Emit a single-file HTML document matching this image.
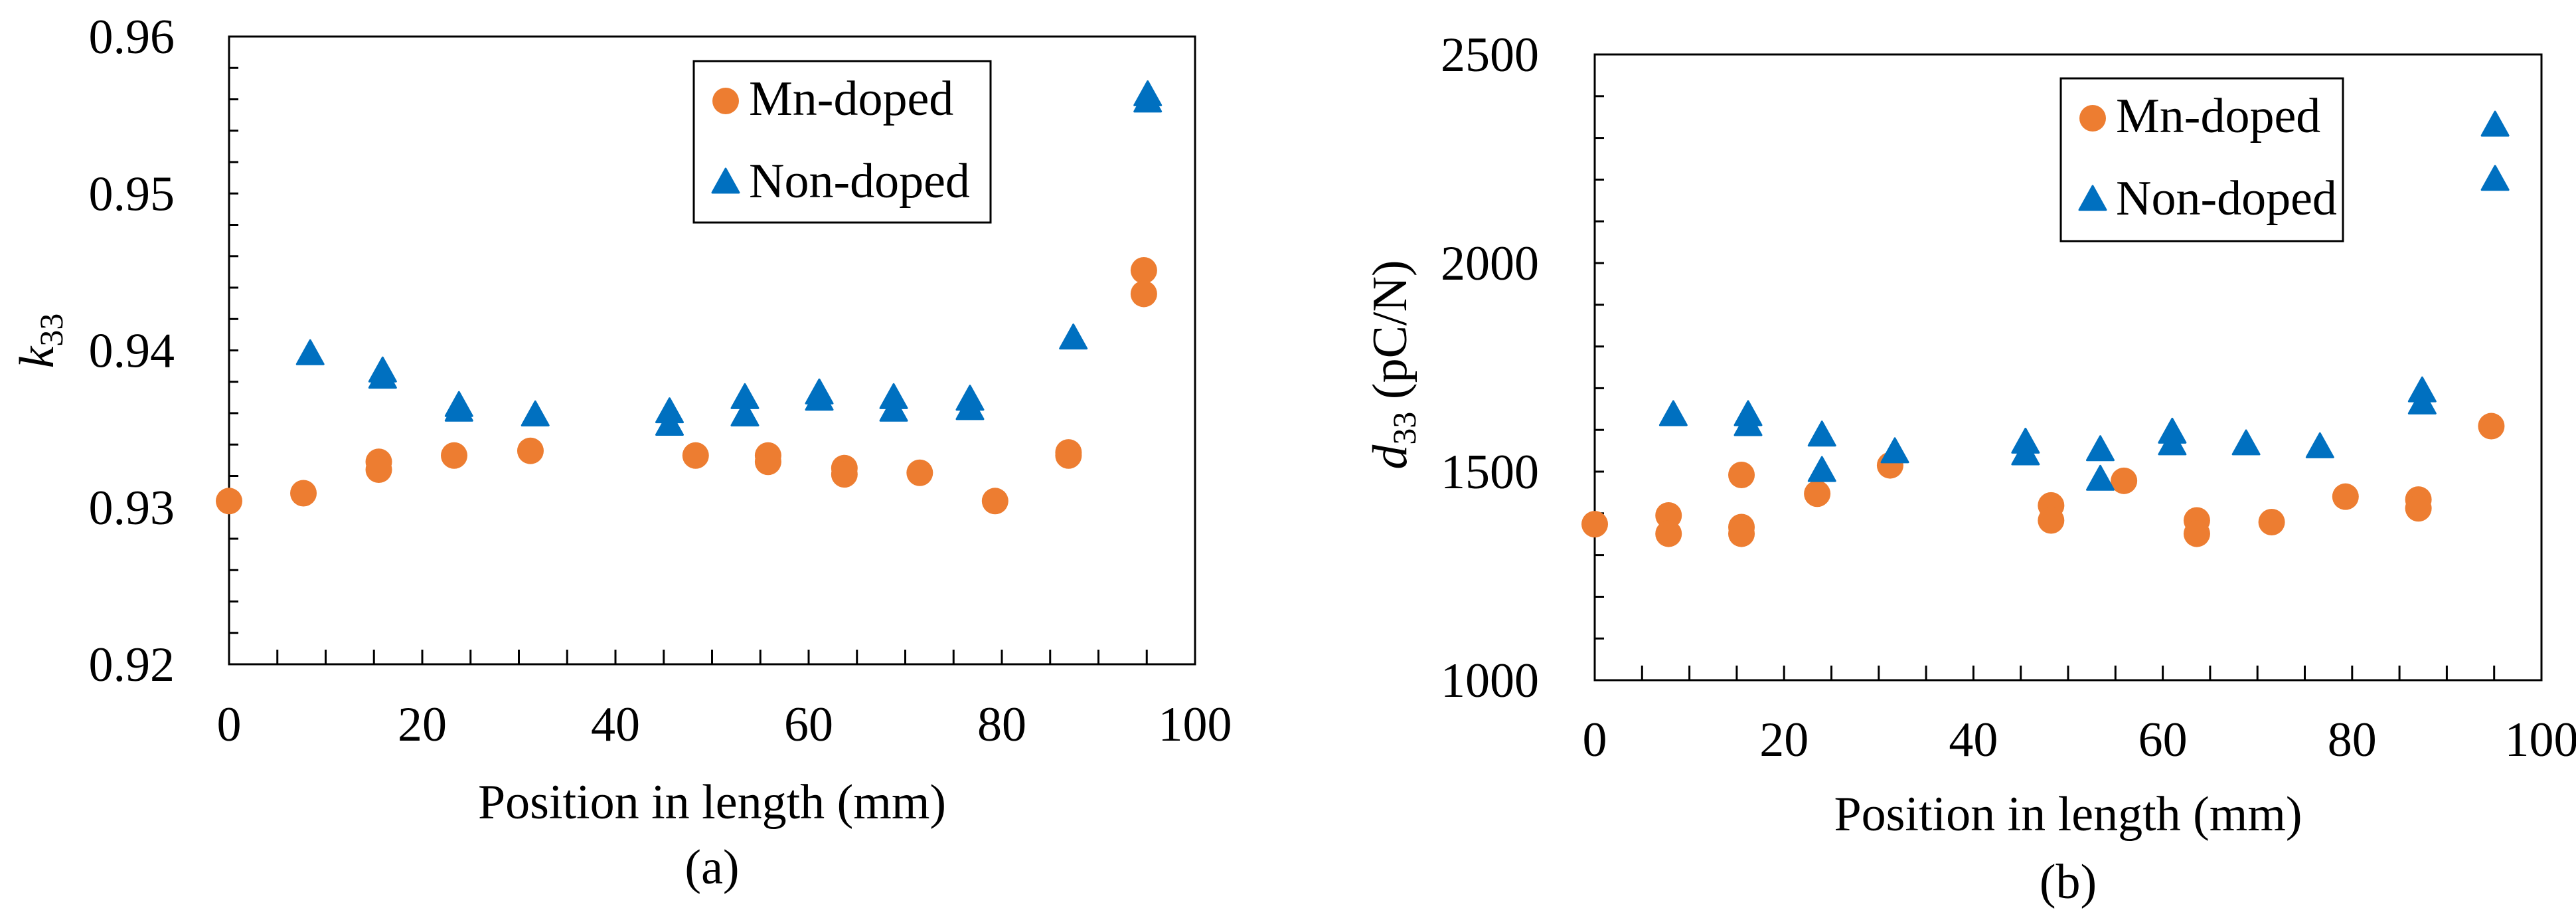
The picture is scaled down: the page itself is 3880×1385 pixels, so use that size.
<!DOCTYPE html>
<html><head><meta charset="utf-8"><style>
html,body{margin:0;padding:0;background:#fff;font-family:'Liberation Serif','Times New Roman',Times,'DejaVu Serif',serif;}
svg text{font-family:'Liberation Serif','Times New Roman',Times,'DejaVu Serif',serif;}
</style></head><body>
<svg id="fig" width="3880" height="1380" viewBox="0 0 3880 1380" xmlns="http://www.w3.org/2000/svg"></svg>
<script>
// Panel (a) data: k33
const aMnX = [0, 7.7, 15.5, 15.5, 23.3, 31.2, 48.3, 55.8, 55.8, 63.7, 63.7, 71.5, 79.3, 86.9, 86.9, 94.7, 94.7];
const aMnY = [0.9304, 0.9309, 0.9329, 0.9324, 0.9333, 0.9336, 0.9333, 0.9333, 0.9329, 0.9325, 0.9321, 0.9322, 0.9304, 0.9335, 0.9333, 0.9451, 0.9436];
const aNonX = [8.4, 15.9, 15.9, 23.8, 23.8, 31.7, 45.6, 45.6, 53.4, 53.4, 61.1, 61.1, 68.8, 68.8, 76.7, 76.7, 87.4, 95.1, 95.1];
const aNonY = [0.9398, 0.9387, 0.9383, 0.9365, 0.9362, 0.9359, 0.9361, 0.9353, 0.9370, 0.9359, 0.9373, 0.9369, 0.9370, 0.9362, 0.9369, 0.9363, 0.9408, 0.9563, 0.9559];
const aYTicks = ["0.92", "0.93", "0.94", "0.95", "0.96"];
// Panel (b) data: d33
const bMnX = [0, 7.8, 7.8, 15.5, 15.5, 15.5, 23.5, 31.2, 48.2, 48.2, 55.9, 63.6, 63.6, 71.5, 79.3, 87, 87, 94.7];
const bMnY = [1374, 1395, 1351, 1492, 1367, 1351, 1447, 1515, 1419, 1383, 1478, 1383, 1351, 1379, 1440, 1433, 1412, 1609];
const bNonX = [8.3, 16.2, 16.2, 24, 24, 31.7, 45.5, 45.5, 53.4, 53.4, 61, 61, 68.8, 76.6, 87.4, 87.4, 95.1, 95.1];
const bNonY = [1637, 1637, 1613, 1588, 1503, 1548, 1571, 1543, 1553, 1482, 1595, 1567, 1567, 1560, 1694, 1665, 2331, 2201];
const bYTicks = ["1000", "1500", "2000", "2500"];
const xTicks = ["0", "20", "40", "60", "80", "100"];

const NS = "http://www.w3.org/2000/svg";
const svg = document.getElementById('fig');
const ORANGE = "#ED7D31", BLUE = "#0070C0";
const FONT = "'Liberation Serif','Times New Roman',Times,'DejaVu Serif',serif";
function mk(tag, attrs, parent){
  const e = document.createElementNS(NS, tag);
  for (const k in attrs) e.setAttribute(k, attrs[k]);
  if (tag === 'text') { e.setAttribute('font-family', FONT); e.style.fontFamily = FONT; }
  (parent||svg).appendChild(e);
  return e;
}
function panel(cfg){
  const g = mk('g', {});
  
  
  const L=cfg.L, R=cfg.R, T=cfg.T, B=cfg.B;
  const sx = v => L + (v - 0) / 100 * (R - L);
  const sy = v => B - (v - cfg.ymin) / (cfg.ymax - cfg.ymin) * (B - T);
  const frame = mk('rect', {x:L, y:T, width:R-L, height:B-T, fill:'none', stroke:'#000', 'stroke-width':3}, g);
  
  
  const nMinor = cfg.yMinorCount;
  for (let i=1;i<nMinor;i++){
    const y = B - i*(B-T)/nMinor;
    const t = mk('line', {x1:L, x2:L+14, y1:y, y2:y, stroke:'#000', 'stroke-width':3}, g);
    
    
  }
  for (let v=5; v<100; v+=5){
    const x = sx(v);
    const t = mk('line', {x1:x, x2:x, y1:B, y2:B-22, stroke:'#000', 'stroke-width':3}, g);
    
    
  }
  cfg.yTicks.forEach(s => {
    const v = parseFloat(s);
    const t = mk('text', {x:cfg.yLabelRight, y:sy(v)+25, 'font-size':74, 'text-anchor':'end', fill:'#000'}, g);
    t.textContent = s;
    
    
  });
  xTicks.forEach(s => {
    const v = parseFloat(s);
    const t = mk('text', {x:sx(v), y:cfg.xLabelY, 'font-size':74, 'text-anchor':'middle', fill:'#000'}, g);
    t.textContent = s;
    
    
  });
  const xt = mk('text', {x:(L+R)/2, y:cfg.xTitleY, 'font-size':74, 'text-anchor':'middle', fill:'#000'}, g);
  xt.textContent = 'Position in length (mm)';
  
  
  const cap = mk('text', {x:(L+R)/2, y:cfg.capY, 'font-size':74, 'text-anchor':'middle', fill:'#000'}, g);
  cap.textContent = cfg.cap;
  
  
  const yt = mk('text', {x:0, y:0, 'font-size':74, 'text-anchor':'middle', fill:'#000', transform:`translate(${cfg.yTitleX},${cfg.yTitleY}) rotate(-90)`}, g);
  
  
  yt.innerHTML = cfg.yTitle;
  function circle(x,y,parent,name){
    const c = mk('circle', {cx:x, cy:y, r:20, fill:ORANGE}, parent);
    
    
  }
  function tri(x,y,parent,name){
    const p = mk('path', {d:`M${x},${y-20} L${x+20},${y+16} L${x-20},${y+16} Z`, fill:BLUE, stroke:BLUE, 'stroke-width':3, 'stroke-linejoin':'round'}, parent);
    
    
  }
  cfg.mnX.forEach((v,i)=>circle(sx(v), sy(cfg.mnY[i]), g, 'mn-doped-point'));
  cfg.nonX.forEach((v,i)=>tri(sx(v), sy(cfg.nonY[i]), g, 'non-doped-point'));
  const lg = mk('g', {}, g);
  
  
  const lb = cfg.leg;
  mk('rect', {x:lb.x, y:lb.y, width:lb.w, height:lb.h, fill:'#fff', stroke:'#000', 'stroke-width':3}, lg);
  const e1 = mk('g', {}, lg);
  
  
  circle(lb.x+48, lb.y+60, e1, 'legend-marker-circle');
  const t1 = mk('text', {x:lb.x+83, y:lb.y+81, 'font-size':74, fill:'#000'}, e1);
  t1.textContent = 'Mn-doped';
  const e2 = mk('g', {}, lg);
  
  
  tri(lb.x+48, lb.y+182, e2, 'legend-marker-triangle');
  const t2 = mk('text', {x:lb.x+83, y:lb.y+205, 'font-size':74, fill:'#000'}, e2);
  t2.textContent = 'Non-doped';
}
panel({name:'panel-a-k33', L:345, R:1800, T:55, B:1000, ymin:0.92, ymax:0.96, yMinorCount:20,
  yTicks:aYTicks, yLabelRight:263, xLabelY:1115, xTitleY:1232, capY:1330, cap:'(a)',
  yTitleX:80, yTitleY:513, yTitle:'<tspan font-style="italic">k</tspan><tspan font-size="50" dy="14">33</tspan>',
  mnX:aMnX, mnY:aMnY, nonX:aNonX, nonY:aNonY, leg:{x:1045,y:92,w:447,h:243}});
panel({name:'panel-b-d33', L:2402, R:3828, T:82, B:1024, ymin:1000, ymax:2500, yMinorCount:15,
  yTicks:bYTicks, yLabelRight:2318, xLabelY:1138, xTitleY:1250, capY:1352, cap:'(b)',
  yTitleX:2118, yTitleY:549, yTitle:'<tspan font-style="italic">d</tspan><tspan font-size="50" dy="14">33</tspan><tspan dy="-14"> (pC/N)</tspan>',
  mnX:bMnX, mnY:bMnY, nonX:bNonX, nonY:bNonY, leg:{x:3104,y:118,w:425,h:245}});
</script>
</body></html>
